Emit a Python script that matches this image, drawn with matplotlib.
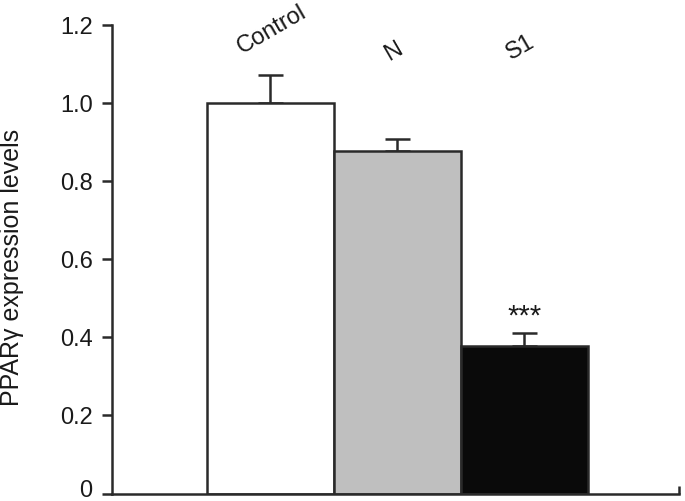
import matplotlib
matplotlib.use("Agg")
import matplotlib.pyplot as plt
import matplotlib.transforms as mtransforms

categories = ["Control", "N", "S1"]
values = [1.0, 0.878, 0.379]
errors = [0.073, 0.029, 0.031]
colors = ["#ffffff", "#bfbfbf", "#0a0a0a"]
yticks = [0, 0.2, 0.4, 0.6, 0.8, 1.0, 1.2]
yticklabels = ["0", "0.2", "0.4", "0.6", "0.8", "1.0", "1.2"]

plt.rcParams['font.family'] = ['Liberation Sans', 'DejaVu Sans']

fig = plt.figure(figsize=(6.85, 5.01), dpi=100)
ax = fig.add_axes([112/685, (501-493.5)/501, (679-112)/685, (493.5-25)/501])

x = list(range(len(categories)))
ax.bar(x, values, width=1.0, color=colors, edgecolor="#2a2a2a", linewidth=1.8, zorder=2)
ax.errorbar(x, [v + e/2 for v, e in zip(values, errors)], yerr=[[e/2 for e in errors], [e/2 for e in errors]],
            fmt="none", ecolor="#2a2a2a", elinewidth=1.8, capsize=9, capthick=1.8, zorder=1)

xl, xr = -1.248, 3.217
ax.set_xlim(xl, xr)
ax.set_ylim(0, 1.2)
ax.set_yticks(yticks)
ax.set_yticklabels(yticklabels, fontsize=17)
ax.tick_params(axis='y', direction='out', length=7, width=1.8, color="#2a2a2a", pad=7, labelcolor="#1a1a1a")
ax.set_xticks([xr])
ax.set_xticklabels([""])
ax.tick_params(axis='x', direction='in', length=6, width=1.8, color="#2a2a2a")

# nudge the "0" label up slightly so it is not clipped (as in reference)
lbl0 = ax.get_yticklabels()[0]
lbl0.set_transform(lbl0.get_transform() + mtransforms.ScaledTranslation(0, 5/100, fig.dpi_scale_trans))

for s in ["top", "right"]:
    ax.spines[s].set_visible(False)
for s in ["left", "bottom"]:
    ax.spines[s].set_linewidth(1.8)
    ax.spines[s].set_color("#2a2a2a")

ax.set_ylabel("PPARγ expression levels", fontsize=18, color="#1a1a1a")
ax.yaxis.set_label_coords(-0.156, 0.482)

label_pos = [(0.012, 1.187), (0.972, 1.131), (1.965, 1.141)]
for (lx, ly), name in zip(label_pos, categories):
    ax.text(lx, ly, name, rotation=30, ha="center", va="center", fontsize=17,
            color="#1a1a1a", rotation_mode="anchor")

ax.text(2.0, 0.452, "***", ha="center", va="center", fontsize=21, color="#1a1a1a")

fig.savefig("out.png", dpi=100)
